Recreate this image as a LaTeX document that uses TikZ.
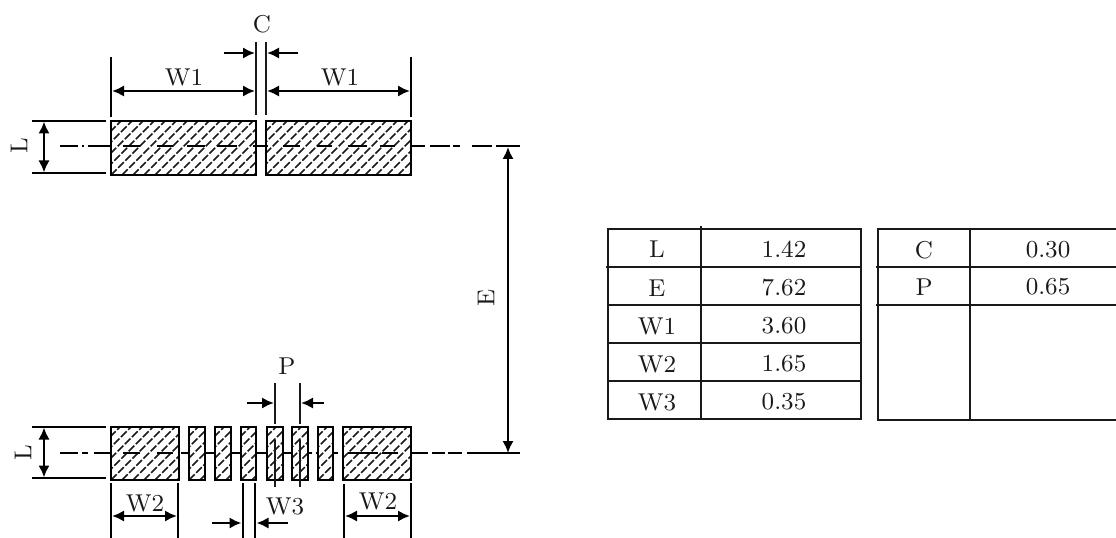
\documentclass[tikz,border=0pt]{standalone}
\usetikzlibrary{arrows.meta}
\tikzset{
  ln/.style={line width=2pt,black},
  thin ext/.style={line width=1.7pt,black!90},
  padbox/.style={line width=1.9pt,black},
  dim/.style={line width=1.8pt,black,{Latex[length=9pt,width=8.5pt]}-{Latex[length=9pt,width=8.5pt]}},
  lead/.style={line width=1.8pt,black,-{Latex[length=9pt,width=8.5pt]}},
  axis/.style={line width=1.9pt,black},
  lab/.style={font=\fontsize{9}{11}\selectfont,scale=2.03,inner sep=0pt,text=black!90},
  grid/.style={line width=2pt,black!90},
}
\newcommand{\hpad}[4]{%
  \begin{scope}
    \clip (#1,#2) rectangle (#3,#4);
    \foreach \k in {-66,-55,...,560}{
      \draw[line width=1.2pt,black!90,dash pattern=on 6pt off 1.6pt] (#1+\k,#4) -- ++(70,-70);
    }
  \end{scope}
  \draw[padbox] (#1,#2) rectangle (#3,#4);}
\begin{document}
\begin{tikzpicture}[x=0.75pt,y=-0.75pt]
\useasboundingbox (0,0) rectangle (1116,538);
% top pads
\hpad{111}{121}{256}{175}
\hpad{266}{121}{411}{175}
% bottom pads
\hpad{111}{427}{179}{480}
\hpad{189}{427}{205}{480}
\hpad{215}{427}{231}{480}
\hpad{241}{427}{256}{480}
\hpad{267}{427}{283}{480}
\hpad{292}{427}{308}{480}
\hpad{318}{427}{333}{480}
\hpad{343}{427}{411}{480}
% top centre line
\foreach \a/\b in {60/78,82/84,88/110,123/140,157/173,187/205,217/237,253/268,283/300,317/332,348/367,380/395,412/425,430/450,453/460,472/492,496/520}
  \draw[axis] (\a,146) -- (\b,146);
% bottom centre line
\foreach \a/\b in {60/78,82/88,94/110,123/140,157/173,181/189,205/215,231/241,256/267,283/292,308/312,316/318,333/338,348/378,382/398,412/428,432/445,448/462,467/520}
  \draw[axis] (\a,453) -- (\b,453);
% L dims
\draw[ln] (32,121) -- (106,121) (32,173) -- (106,173);
\draw[dim] (44,121.5) -- (44,172.5);
\node[lab,rotate=90] (Lt) at (19,146) {L};
\draw[ln] (32,427) -- (106,427) (32,478) -- (106,478);
\draw[dim] (44,427.5) -- (44,477.5);
\node[lab,rotate=90] (Lb) at (23,453) {L};
% W1 / C
\draw[ln] (111,57) -- (111,117) (411,57) -- (411,117);
\draw[thin ext] (256,42) -- (256,115) (266,42) -- (266,115);
\draw[dim] (112,91) -- (255,91);
\draw[dim] (267,91) -- (410,91);
\draw[lead] (224,53) -- (255,53);
\draw[lead] (298,53) -- (267,53);
\node[lab] (W1a) at (184,77) {W1};
\node[lab] (W1b) at (340,77) {W1};
\node[lab] (Cl) at (262,24) {C};
% E
\draw[dim] (508,147) -- (508,453);
\node[lab,rotate=90] (El) at (486,298) {E};
% P
\draw[thin ext] (275,383) -- (275,424) (300,383) -- (300,424);
\draw[thin ext] (275,440) -- (275,487) (300,440) -- (300,487);
\draw[lead] (247,403) -- (274,403);
\draw[lead] (324,403) -- (301,403);
\node[lab] (Pl) at (287,366) {P};
% W2 / W3
\draw[ln] (111,483) -- (111,538) (178,483) -- (178,538) (344,484) -- (344,538) (411,483) -- (411,538);
\draw[dim] (112,516) -- (177,516);
\draw[dim] (345,516) -- (410,516);
\node[lab] (W2a) at (145,503) {W2};
\node[lab] (W2b) at (378,501) {W2};
\draw[ln] (243,483) -- (243,538) (255,483) -- (255,538);
\draw[lead] (212,523) -- (241.5,523);
\draw[lead] (288,523) -- (256.5,523);
\node[lab] (W3l) at (285,506) {W3};
% left table
\draw[grid] (608,229) rectangle (861,419);
\draw[grid] (701,226) -- (701,419);
\draw[grid] (606,267) -- (861,267) (608,305) -- (861,305) (608,343) -- (861,343) (608,381) -- (861,381);
\foreach \n/\t/\v/\y in {a/L/1.42/249,b/E/7.62/288,c/W1/3.60/326,d/W2/1.65/364,e/W3/0.35/402}{
  \node[lab] (k\n) at (657,\y) {\t};
  \node[lab] (v\n) at (784,\y) {\v};
}
% right table
\draw[grid] (1117,229) -- (878,229) -- (878,420) -- (1117,420);
\draw[grid] (970,229) -- (970,420);
\draw[grid] (876,267) -- (1117,267) (876,305) -- (1117,305);
\node[lab] (kf) at (924,250) {C};
\node[lab] (vf) at (1048,250) {0.30};
\node[lab] (kg) at (924,287) {P};
\node[lab] (vg) at (1048,287) {0.65};
\end{tikzpicture}
\end{document}
